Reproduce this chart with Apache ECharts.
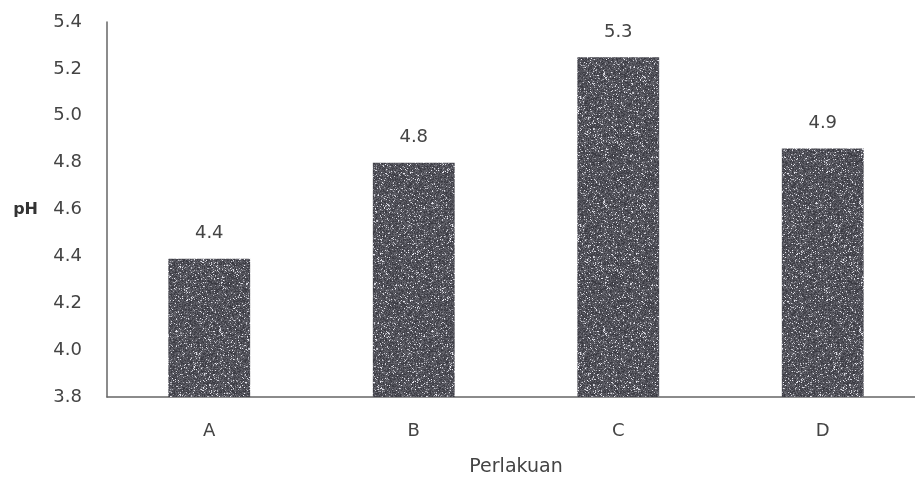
<!DOCTYPE html>
<html><head><meta charset="utf-8">
<script src="https://cdn.jsdelivr.net/npm/echarts@6/dist/echarts.min.js"></script>
<style>html,body{margin:0;padding:0;background:#fff;overflow:hidden}#c{width:915px;height:477px}</style>
</head><body><div id="c"></div>
<script>
const categories = ['A', 'B', 'C', 'D'];
const phValues = [4.39, 4.80, 5.25, 4.86];
const phLabels = ['4.4', '4.8', '5.3', '4.9'];
const yTicks = { min: 3.8, max: 5.4, interval: 0.2 };

// decorative speckle texture (deterministic hash)
function makeTexture() {
  const s = 128, cv = document.createElement('canvas');
  cv.width = s; cv.height = s;
  const ctx = cv.getContext('2d');
  const img = ctx.createImageData(s, s);
  let h = 98765;
  for (let i = 0; i < s * s; i++) {
    h = (h * 1103515245 + 12345) & 0x7fffffff;
    const r = (h >> 10) % 1000;
    let v = 55 + (r % 50);
    if (r > 880) v = 120 + (r - 880);
    img.data[i*4] = v; img.data[i*4+1] = v; img.data[i*4+2] = v + 8; img.data[i*4+3] = 255;
  }
  ctx.putImageData(img, 0, 0);
  return cv;
}

const chart = echarts.init(document.getElementById('c'), null, { renderer: 'canvas' });
const fam = 'DejaVu Sans';
chart.setOption({
  animation: false,
  backgroundColor: '#fff',
  grid: { left: 107, right: -10, top: 22, bottom: 80, containLabel: false, outerBoundsMode: 'none' },
  xAxis: {
    type: 'category', data: categories,
    name: 'Perlakuan', nameLocation: 'middle', nameGap: 61,
    nameTextStyle: { fontFamily: fam, fontSize: 19, color: '#444' },
    axisLine: { lineStyle: { color: '#666', width: 1.5 } },
    axisTick: { show: false },
    axisLabel: { fontFamily: fam, fontSize: 18, color: '#444', margin: 25 }
  },
  yAxis: {
    type: 'value', min: yTicks.min, max: yTicks.max, interval: yTicks.interval,
    name: 'pH', nameLocation: 'middle', nameRotate: 0, nameGap: 69,
    nameTextStyle: { fontFamily: fam, fontSize: 16, fontWeight: 'bold', color: '#333', align: 'right' },
    axisLine: { show: true, lineStyle: { color: '#666', width: 1.5 } },
    axisTick: { show: false },
    splitLine: { show: false },
    axisLabel: { fontFamily: fam, fontSize: 18, color: '#444', margin: 25,
      formatter: v => v.toFixed(1) }
  },
  series: [{
    type: 'bar', data: phValues, barWidth: '40%',
    itemStyle: { color: { image: makeTexture(), repeat: 'repeat' } },
    label: { show: true, position: 'top', distance: 16, fontFamily: fam, fontSize: 18, color: '#444',
      formatter: p => phLabels[p.dataIndex] }
  }]
});
</script></body></html>
